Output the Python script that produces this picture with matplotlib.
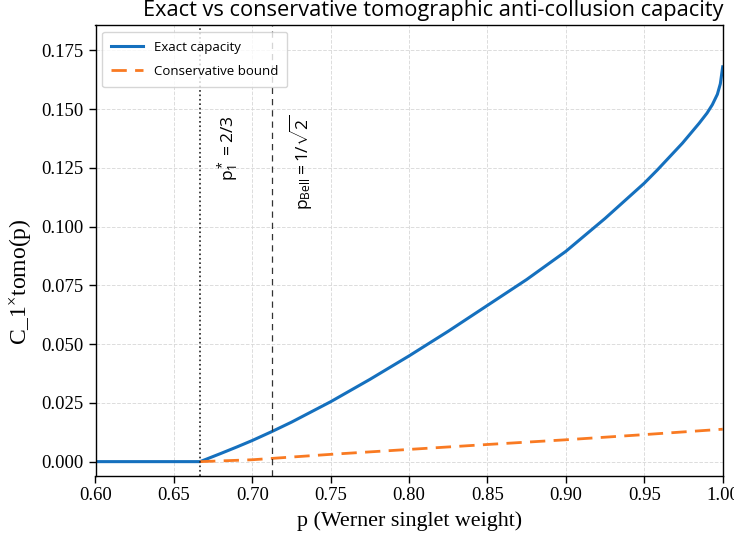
import numpy as np
import matplotlib
matplotlib.use("Agg")
import matplotlib.pyplot as plt

# ---- data ----
p_exact = [0.60, 0.6667, 0.68, 0.69, 0.70, 0.7125, 0.725, 0.75, 0.775, 0.80, 0.825,
           0.85, 0.875, 0.90, 0.925, 0.95, 0.9583, 0.9743, 0.985, 0.99, 0.9934, 0.9966, 0.9985, 1.0]
c_exact = [0.0, 0.0, 0.0035, 0.0062, 0.0090, 0.0128, 0.0168, 0.0255, 0.0350, 0.0450, 0.0555,
           0.0665, 0.0775, 0.0895, 0.1035, 0.1185, 0.1241, 0.1355, 0.1440, 0.1483, 0.1519,
           0.1563, 0.1608, 0.1680]

p_cons = [0.6667, 0.70, 0.75, 0.80, 0.85, 0.90, 0.95, 1.0]
c_cons = [0.0, 0.0008, 0.0031, 0.0052, 0.0073, 0.0093, 0.0115, 0.0138]

p_star = 2 / 3
p_bell = 0.7125

xticks = [0.60, 0.65, 0.70, 0.75, 0.80, 0.85, 0.90, 0.95, 1.00]
yticks = [0.000, 0.025, 0.050, 0.075, 0.100, 0.125, 0.150, 0.175]

SANS = ['Open Sans', 'DejaVu Sans']
plt.rcParams['font.family'] = SANS
plt.rcParams['mathtext.fontset'] = 'custom'
plt.rcParams['mathtext.rm'] = 'Open Sans'
plt.rcParams['mathtext.it'] = 'Open Sans:italic'
plt.rcParams['mathtext.default'] = 'regular'

fig = plt.figure(figsize=(7.34, 5.39), dpi=100)
ax = fig.add_axes([95.5 / 734, 1 - 475.5 / 539, (722.7 - 95.5) / 734, (475.5 - 25) / 539])

ax.grid(True, color='#d9d9d9', linestyle='--', linewidth=0.7, alpha=0.9)
ax.set_axisbelow(True)

ax.plot(p_exact, c_exact, color='#1570be', linewidth=2.2, label='Exact capacity')
ax.plot(p_cons, c_cons, color='#f97a22', linewidth=2.0, linestyle=(0, (5.5, 3)),
        label='Conservative bound')

ax.axvline(p_star, color='#222222', linestyle=':', linewidth=1.2)
ax.axvline(p_bell, color='#333333', linestyle=(0, (5, 4)), linewidth=0.9)

tr = ax.get_xaxis_transform()
ax.text(p_star + 0.01, 0.80, r"$p_1^* = 2/3$", rotation=90, ha='left', va='top',
        transform=tr, fontsize=12.5)
ax.text(p_bell + 0.01, 0.80, r"$p_{Bell} = 1/\sqrt{2}$", rotation=90, ha='left', va='top',
        transform=tr, fontsize=12.5)

ax.set_xlim(0.6, 1.0)
ax.set_ylim(-0.0059, 0.1858)
ax.set_xticks(xticks)
ax.set_yticks(yticks)
ax.set_xticklabels([f"{t:.2f}" for t in xticks], family='Liberation Serif', fontsize=13.5)
ax.set_yticklabels([f"{t:.3f}" for t in yticks], family='Liberation Serif', fontsize=13.5)
ax.tick_params(direction='out', length=5, width=1, colors='black')

ax.set_xlabel('p (Werner singlet weight)', family='Liberation Serif', fontsize=15.8, labelpad=5)
ax.set_ylabel(r'C_1$^{\times}$tomo(p)', family='Liberation Serif', fontsize=17)
ax.yaxis.set_label_coords(-0.100, 0.43)

for s in ax.spines.values():
    s.set_color('black')
    s.set_linewidth(1.0)

leg = ax.legend(loc='upper left', fontsize=9.5, frameon=True, fancybox=True,
                borderpad=0.7, handlelength=2.4, labelspacing=0.85)
leg.get_frame().set_edgecolor('#cccccc')

fig.text(433 / 734, 1 - 16 / 539, 'Exact vs conservative tomographic anti-collusion capacity',
         ha='center', va='baseline', fontsize=15.7)

fig.savefig('out.png', dpi=100)
